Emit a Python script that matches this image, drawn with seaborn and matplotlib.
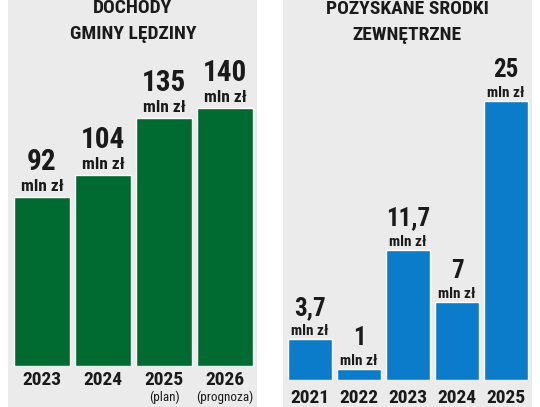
import matplotlib
matplotlib.use("Agg")
import matplotlib.pyplot as plt
from matplotlib.patches import Rectangle
import pandas as pd
import seaborn as sns

# data
income_years = ["2023", "2024", "2025", "2026"]
income_values = [92, 104, 135, 140]
income_labels = ["92", "104", "135", "140"]
income_notes = ["", "", "(plan)", "(prognoza)"]

funds_years = ["2021", "2022", "2023", "2024", "2025"]
funds_values = [3.7, 1, 11.7, 7, 25]
funds_labels = ["3,7", "1", "11,7", "7", "25"]

sns.set_theme(style="white")
plt.rcParams["font.family"] = ["Roboto Condensed", "Barlow Condensed", "DejaVu Sans"]

W, H = 540, 407
fig = plt.figure(figsize=(W / 100, H / 100), dpi=100)
fig.patch.set_facecolor("white")

GRAY = "#ebebeb"
GREEN = "#006b30"
BLUE = "#0a7cca"
INK = "#1a1a1a"


def px_axes(x0, x1, ytop, ybot):
    # axes box given in pixel coordinates measured from top-left
    return fig.add_axes([x0 / W, 1 - ybot / H, (x1 - x0) / W, (ybot - ytop) / H])


# gray panels (behind the axes)
for x0 in (8, 283):
    fig.patches.append(Rectangle((x0 / W, 0), 249 / W, 1, transform=fig.transFigure,
                                 facecolor=GRAY, edgecolor="none", zorder=-5))

# titles
fig.text(133 / W, 1 - 13 / H, "DOCHODY", ha="center", va="baseline",
         fontsize=14, color=INK, fontweight="bold")
fig.text(133 / W, 1 - 39 / H, "GMINY LĘDZINY", ha="center", va="baseline",
         fontsize=14, color=INK, fontweight="bold")
fig.text(407 / W, 1 - 14 / H, "POZYSKANE ŚRODKI", ha="center", va="baseline",
         fontsize=14, color=INK, fontweight="bold")
fig.text(407 / W, 1 - 40 / H, "ZEWNĘTRZNE", ha="center", va="baseline",
         fontsize=14, color=INK, fontweight="bold")

# left chart
df1 = pd.DataFrame({"rok": income_years, "mln": income_values})
ax1 = px_axes(11.5, 255.5, 0, 366)
sns.barplot(data=df1, x="rok", y="mln", color=GREEN, saturation=1, width=0.92, ax=ax1)
ax1.set_xlim(-0.5, 3.5)
ax1.set_ylim(0, 366 / 1.84)

for i, (v, lab) in enumerate(zip(income_values, income_labels)):
    ax1.annotate(lab, (i, v), xytext=(0, 27), textcoords="offset pixels",
                 ha="center", va="baseline", fontsize=21, color=INK, fontweight="bold")
    ax1.annotate("mln zł", (i, v), xytext=(0, 6), textcoords="offset pixels",
                 ha="center", va="baseline", fontsize=12.5, color=INK, fontweight="bold")
for i, (yr, note) in enumerate(zip(income_years, income_notes)):
    ax1.annotate(yr, (i, 0), xytext=(0, -19), textcoords="offset pixels",
                 ha="center", va="baseline", fontsize=14, color=INK,
                 fontweight="bold", annotation_clip=False)
    if note:
        ax1.annotate(note, (i, 0), xytext=(0, -35), textcoords="offset pixels",
                     ha="center", va="baseline", fontsize=9.5, color=INK,
                     fontweight="normal", annotation_clip=False)

# right chart
df2 = pd.DataFrame({"rok": funds_years, "mln": funds_values})
ax2 = px_axes(285.5, 530.5, 0, 380)
sns.barplot(data=df2, x="rok", y="mln", color=BLUE, saturation=1, width=0.9, ax=ax2)
ax2.set_xlim(-0.5, 4.5)
ax2.set_ylim(0, 380 / 11.15)

for i, (v, lab) in enumerate(zip(funds_values, funds_labels)):
    ax2.annotate(lab, (i, v), xytext=(0, 24), textcoords="offset pixels",
                 ha="center", va="baseline", fontsize=18, color=INK, fontweight="bold")
    ax2.annotate("mln zł", (i, v), xytext=(0, 4), textcoords="offset pixels",
                 ha="center", va="baseline", fontsize=11, color=INK, fontweight="bold")
for i, yr in enumerate(funds_years):
    ax2.annotate(yr, (i, 0), xytext=(0, -23), textcoords="offset pixels",
                 ha="center", va="baseline", fontsize=14, color=INK,
                 fontweight="bold", annotation_clip=False)

for ax in (ax1, ax2):
    ax.patch.set_alpha(0)
    ax.set_axis_off()

fig.savefig("out.png", dpi=100)
